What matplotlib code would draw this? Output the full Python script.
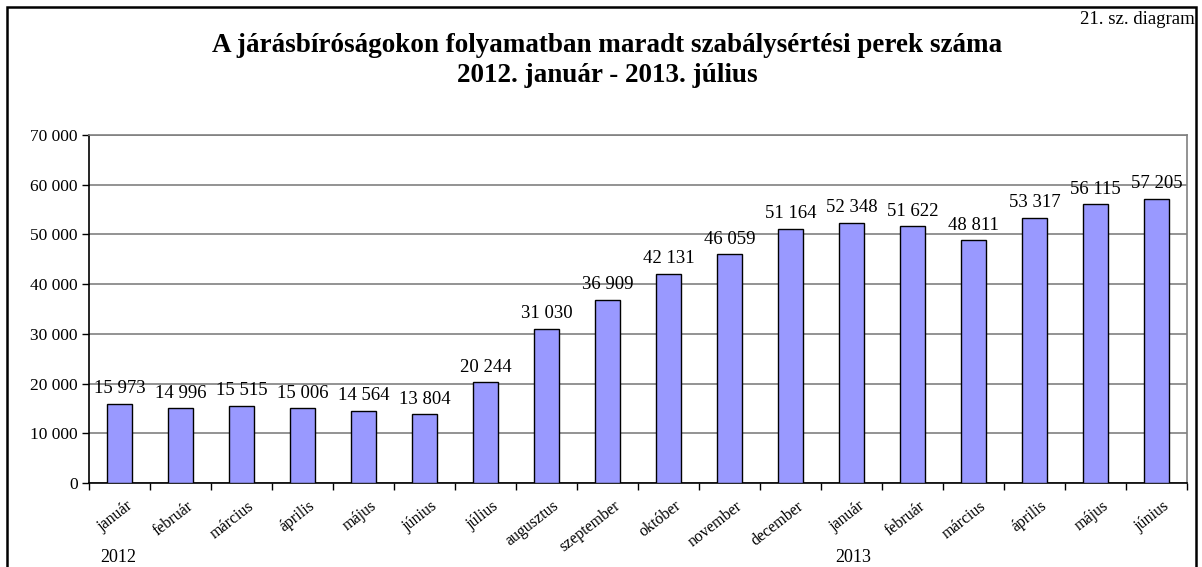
import matplotlib
matplotlib.use("Agg")
import matplotlib.pyplot as plt
from matplotlib.patches import Rectangle

months = ["január", "február", "március", "április", "május", "június", "július",
          "augusztus", "szeptember", "október", "november", "december",
          "január", "február", "március", "április", "május", "június"]
values = [15973, 14996, 15515, 15006, 14564, 13804, 20244, 31030, 36909, 42131,
          46059, 51164, 52348, 51622, 48811, 53317, 56115, 57205]
yticks = [0, 10000, 20000, 30000, 40000, 50000, 60000, 70000]
years = ["2012", "2013"]

plt.rcParams['font.family'] = ['Liberation Serif', 'DejaVu Serif']

W, H = 1202, 567
fig = plt.figure(figsize=(W / 100, H / 100), dpi=100)
ax = fig.add_axes([89 / W, 1 - 483 / H, (1187 - 89) / W, (483 - 135) / H])

def fmt(v):
    return f"{v:,}".replace(",", " ")

x = list(range(len(values)))
ax.bar(x, values, width=0.4, color="#9999FF", edgecolor="black", linewidth=1, zorder=3)
for xi, v in zip(x, values):
    ax.text(xi, v + 1300, fmt(v), ha="center", va="bottom", fontsize=13.5, zorder=4)

ax.set_xlim(-0.5, len(values) - 0.5)
ax.set_ylim(0, 70000)
ax.set_yticks(yticks)
ax.set_yticklabels([fmt(t) for t in yticks], fontsize=12.5)
ax.yaxis.grid(True, color="#808080", linewidth=1.2, zorder=0)
ax.set_xticks([i - 0.5 for i in range(len(values) + 1)])
ax.set_xticklabels([])
ax.tick_params(axis="x", direction="out", length=5, width=1, color="black")
ax.tick_params(axis="y", direction="out", length=5, width=1, color="black", pad=3)
for xi, m in zip(x, months):
    ax.text(xi + 0.1, -3000, m, rotation=38, ha="right", va="top", fontsize=11.5,
            rotation_mode="anchor", transform=ax.transData)
ax.spines["left"].set_color("black")
ax.spines["bottom"].set_color("black")
ax.spines["top"].set_color("#808080")
ax.spines["right"].set_color("#808080")
for s in ax.spines.values():
    s.set_linewidth(1.2)

fig.text(118 / W, 1 - 557 / H, years[0], ha="center", va="center", fontsize=13)
fig.text(853 / W, 1 - 557 / H, years[1], ha="center", va="center", fontsize=13)

fig.text(607 / W, 1 - 45 / H, "A járásbíróságokon folyamatban maradt szabálysértési perek száma",
         ha="center", va="center", fontsize=19.5, fontweight="bold")
fig.text(607 / W, 1 - 75 / H, "2012. január - 2013. július",
         ha="center", va="center", fontsize=19.5, fontweight="bold")
fig.text(1195 / W, 1 - 20 / H, "21. sz. diagram", ha="right", va="center", fontsize=13.5)

fig.add_artist(Rectangle((7 / W, -0.05), (1196 - 7) / W, 1.05 - 7 / H,
                         transform=fig.transFigure, fill=False, edgecolor="black",
                         linewidth=1.8, clip_on=False))

fig.savefig("out.png", dpi=100)
